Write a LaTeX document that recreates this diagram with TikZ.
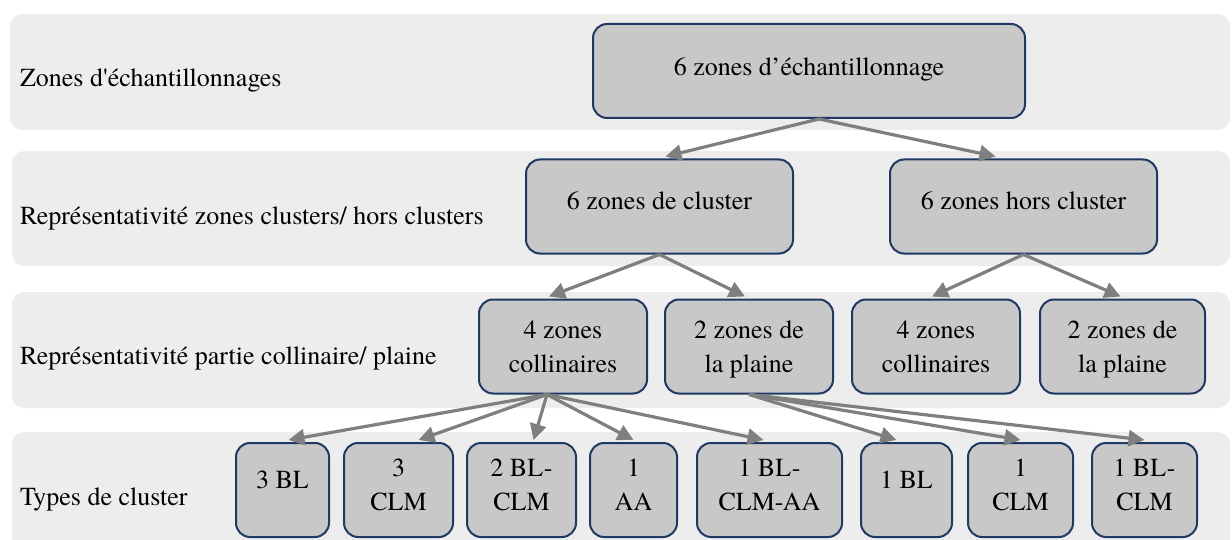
\documentclass[tikz,border=0pt]{standalone}
\usepackage{fontspec}
\setmainfont{texgyretermes-regular.otf}
\usepackage{tikz}
\usetikzlibrary{arrows.meta}
\definecolor{bande}{HTML}{EDEDED}
\definecolor{boite}{HTML}{C8C8C8}
\definecolor{bord}{HTML}{1F3864}
\definecolor{fleche}{HTML}{7F7F7F}

\begin{document}
\begin{tikzpicture}[x=0.5pt, y=-0.5pt,
  every node/.style = {font=\fontsize{13}{17}\selectfont, align=center},
  zone/.style = {draw=bord, line width=1pt, fill=boite,
    rounded corners=7pt, inner sep=0pt, minimum height=47pt, text depth=4pt},
  niveau/.style = {fill=bande, rounded corners=6pt},
  lien/.style = {draw=fleche, line width=1.6pt,
    -{Triangle[length=8pt,width=8pt]}}]
  \useasboundingbox (0,0) rectangle (1232,540);

  \fill[niveau] (10,14) rectangle (1230,130);
  \fill[niveau] (12,151) rectangle (1230,266);
  \fill[niveau] (12,292) rectangle (1230,408);
  \fill[niveau] (12,432) rectangle (1230,570);

  \node[anchor=west] (lech) at (13,80) {Zones d\textquotesingle échantillonnages};
  \node[anchor=west] (lclu) at (13,218) {Représentativité zones clusters/ hors clusters};
  \node[anchor=west] (lcol) at (13,358) {Représentativité partie collinaire/ plaine};
  \node[anchor=west] (ltyp) at (13,499) {Types de cluster};

  \node[zone, minimum width=216pt] (ech) at (809,71) {6 zones d’échantillonnage};
  \node[zone, minimum width=133.5pt, text depth=6pt] (clu) at (659.5,206.5) {6 zones de cluster};
  \node[zone, minimum width=133.5pt, text depth=6pt] (hors) at (1023.5,206.5) {6 zones hors cluster};

  \node[zone, minimum width=84pt, text depth=-3pt] (col1) at (563,346.5) {4 zones\\collinaires};
  \node[zone, minimum width=84pt, text depth=-3pt] (pla1) at (749,346.5) {2 zones de\\la plaine};
  \node[zone, minimum width=84pt, text depth=-3pt] (col2) at (936,346.5) {4 zones\\collinaires};
  \node[zone, minimum width=82.5pt, text depth=-3pt] (pla2) at (1122.5,346.5) {2 zones de\\la plaine};

  \node[zone, minimum width=46.5pt, text depth=10pt] (t1) at (282.5,490) {3 BL};
  \node[zone, minimum width=54.5pt, text depth=5pt] (t2) at (398.5,490) {3\\CLM};
  \node[zone, minimum width=54.5pt, text depth=5pt] (t3) at (521.5,490) {2 BL-\\CLM};
  \node[zone, minimum width=43.5pt, text depth=5pt] (t4) at (633.5,490) {1\\AA};
  \node[zone, minimum width=72.5pt, text depth=5pt] (t5) at (769.5,490) {1 BL-\\CLM-AA};
  \node[zone, minimum width=45.5pt, text depth=10pt] (t6) at (906.5,490) {1 BL};
  \node[zone, minimum width=52.5pt, text depth=5pt] (t7) at (1020.5,490) {1\\CLM};
  \node[zone, minimum width=52.5pt, text depth=5pt] (t8) at (1144.5,490) {1 BL-\\CLM};

  \draw[lien] ([xshift=5pt]ech.south) -- ([xshift=3pt,yshift=1pt]clu.north);
  \draw[lien] ([xshift=5pt]ech.south) -- ([xshift=-14pt,yshift=1pt]hors.north);
  \draw[lien] (clu.south) -- ([xshift=-7pt,yshift=1pt]col1.north);
  \draw[lien] (clu.south) -- ([xshift=-2pt,yshift=1pt]pla1.north);
  \draw[lien] (hors.south) -- ([xshift=-2pt,yshift=1pt]col2.north);
  \draw[lien] (hors.south) -- ([xshift=-1pt,yshift=1pt]pla2.north);
  \draw[lien] ([xshift=-8pt]col1.south) -- ([xshift=3pt,yshift=1pt]t1.north);
  \draw[lien] ([xshift=-8pt]col1.south) -- ([xshift=10pt,yshift=1pt]t2.north);
  \draw[lien] ([xshift=-8pt]col1.south) -- ([xshift=6pt,yshift=1pt]t3.north);
  \draw[lien] ([xshift=-8pt]col1.south) -- ([yshift=1pt]t4.north);
  \draw[lien] ([xshift=-8pt]col1.south) -- ([xshift=-3pt,yshift=1pt]t5.north);
  \draw[lien] (pla1.south) -- ([xshift=-5pt,yshift=1pt]t6.north);
  \draw[lien] (pla1.south) -- ([yshift=1pt]t7.north);
  \draw[lien] (pla1.south) -- ([yshift=1pt]t8.north);
\end{tikzpicture}
\end{document}
